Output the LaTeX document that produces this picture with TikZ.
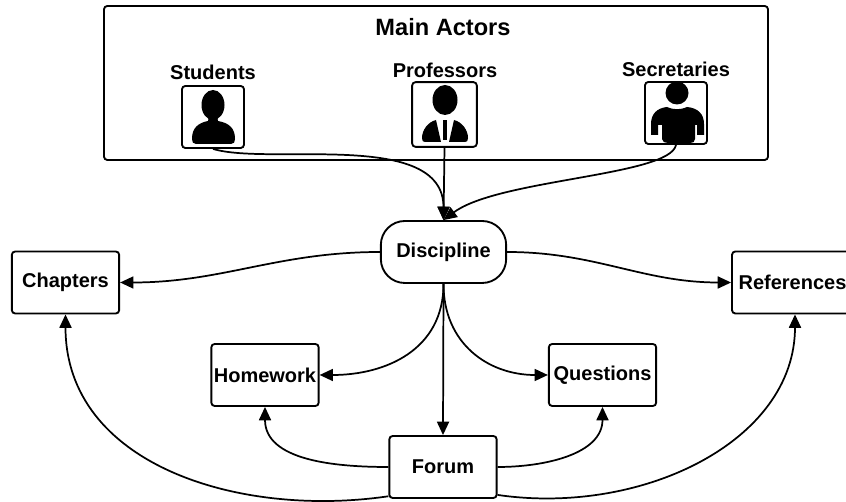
\documentclass[tikz,border=0pt]{standalone}
\usepackage{fontspec}
\setmainfont{Liberation Sans}
\usetikzlibrary{arrows.meta}
\tikzset{
	boxnode/.style={draw,line width=1.4pt,rounded corners=2.5pt,inner sep=0pt,font=\bfseries\fontsize{15}{18}\selectfont},
	iconbox/.style={boxnode,minimum size=46.5pt},
	topicbox/.style={boxnode,minimum width=80.5pt,minimum height=46.5pt},
	actorname/.style={inner sep=0pt,font=\bfseries\fontsize{15}{18}\selectfont},
	link/.style={line width=1.3pt,-{Triangle[length=10pt,width=9pt]}}
}
\begin{document}
\begin{tikzpicture}[x=.75pt,y=.75pt]
	\useasboundingbox (0,0) rectangle (846,502);
	
	\node[boxnode,minimum width=498pt,minimum height=115.5pt] (actors) at (436,419) {};
	\node[actorname,font=\bfseries\fontsize{17.7}{20}\selectfont] (title) at (443,475) {Main Actors};
	
	\node[actorname] (studentsname) at (213,430) {Students};
	\node[actorname] (professorsname) at (445,432) {Professors};
	\node[actorname] (secretariesname) at (676,433) {Secretaries};
	
	\node[iconbox] (students) at (213,385) {};
	\node[iconbox,minimum size=48.5pt] (professors) at (444.5,387.5) {};
	\node[iconbox] (secretaries) at (676,389) {};
	
	% student
	\fill (213,397) ellipse (11.5 and 15);
	\fill (196,358) -- (231,358) .. controls (234,358) and (235,360) .. (235,363)
		.. controls (235,374) and (229,379) .. (218,381) -- (217,386) -- (209,386) -- (208,381)
		.. controls (198,379) and (192,374) .. (192,363) .. controls (192,360) and (193,358) .. (196,358) -- cycle;
	
	% professor
	\fill (445,402) ellipse (12.5 and 15);
	\fill (425,360) -- (441,360) -- (436,382) .. controls (428,380) and (422,372) .. (422,364)
		.. controls (422,361) and (423,360) .. (425,360) -- cycle;
	\fill (465,360) -- (449,360) -- (454,382) .. controls (462,380) and (468,372) .. (468,364)
		.. controls (468,361) and (467,360) .. (465,360) -- cycle;
	\fill (443,362) -- (447,362) -- (447,382) -- (443,382) -- cycle;
	
	% secretary
	\fill (677,409) circle (11.5);
	\fill (662,363) .. controls (662,360) and (665,359) .. (668,359) -- (690,359)
		.. controls (693,359) and (695,360) .. (695,363) -- (695,377) -- (697,377) -- (697,367) -- (704,367) -- (704,378)
		.. controls (704,388) and (698,394) .. (687,395) .. controls (680,392) and (674,392) .. (667,395)
		.. controls (657,394) and (651,388) .. (651,378) -- (651,367) -- (658,367) -- (658,377) -- (662,377) -- cycle;
	
	\node[boxnode,rounded corners=18pt,minimum width=94pt,minimum height=46.5pt] (discipline) at (443.5,250) {Discipline};
	\node[topicbox] (chapters) at (65.5,219.5) {Chapters};
	\node[topicbox,minimum width=94.5pt] (references) at (795,219.5) {};
	\node[actorname] (referencesname) at (792.5,219.5) {References};
	\node[topicbox] (homework) at (265,127) {Homework};
	\node[topicbox] (questions) at (602.5,127) {Questions};
	\node[topicbox] (forum) at (443,35) {Forum};
	
	\draw[link] (students.south) .. controls +(57,-17) and +(0,91) .. (discipline.north);
	\draw[link] (professors.south) -- (discipline.north);
	\draw[link] (secretaries.south) .. controls +(-6,-31) and +(55,41) .. (discipline.north);
	
	\draw[link] (discipline.west) to[out=180,in=0] (chapters.east);
	\draw[link] (discipline.east) to[out=0,in=180] (references.west);
	\draw[link] (discipline.south) to[out=-90,in=0,looseness=1.1] (homework.east);
	\draw[link] (discipline.south) to[out=-90,in=180,looseness=1.1] (questions.west);
	\draw[link] (discipline.south) -- (forum.north);
	
	\draw[link] (forum.west) to[out=180,in=-90] (homework.south);
	\draw[link] (forum.east) to[out=0,in=-90] (questions.south);
	\draw[link] ([yshift=2pt]forum.south west) .. controls +(-150,-22) and +(0,-150) .. (chapters.south);
	\draw[link] ([yshift=3pt]forum.south east) .. controls +(144,-21) and +(0,-127) .. (references.south);
\end{tikzpicture}
\end{document}
